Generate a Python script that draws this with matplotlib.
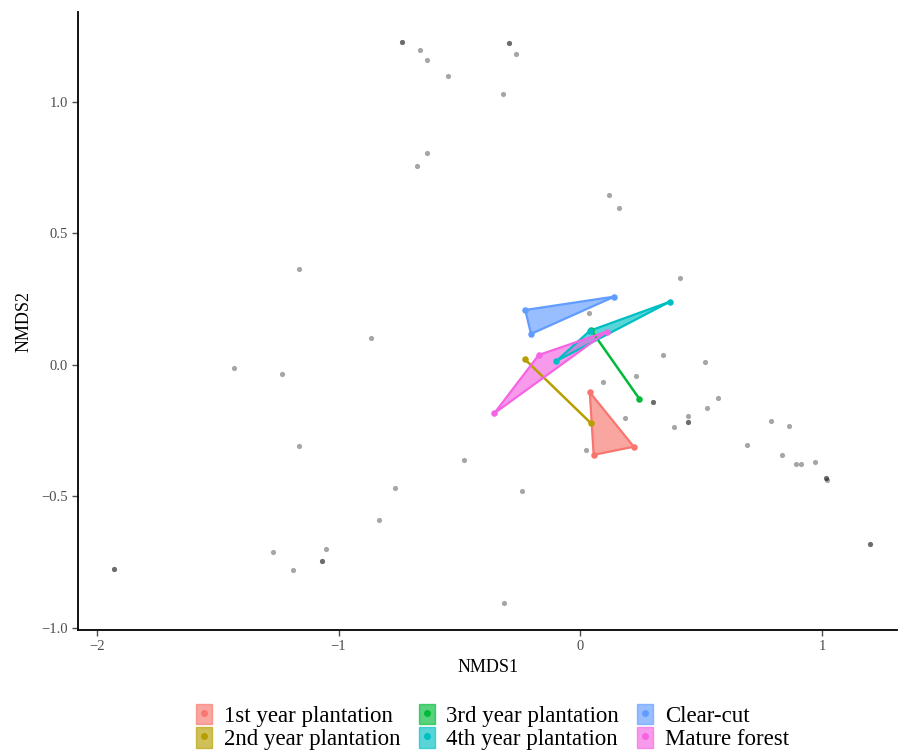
import matplotlib.pyplot as plt
from matplotlib.patches import Patch
from matplotlib.lines import Line2D
import numpy as np

plt.rcParams['font.family'] = ['Liberation Serif', 'DejaVu Serif']

# Site scores (grey background points)
site_x = [-0.736, -0.736, -0.662, -0.633, -0.546, -0.294, -0.294, -0.265, -0.319,
          -0.633, -0.674, 0.120, 0.161, -1.163, 0.414, -0.865, -1.432, -1.233,
          -1.163, -0.480, -0.765, -0.240, -0.832, -1.270, -1.187, -1.051, -1.067,
          -1.067, -1.928, -1.928, -0.314, 1.196, 1.196, 1.014, 1.014, 1.018,
          0.037, 0.343, 0.517, 0.095, 0.228, 0.302, 0.302, 0.186, 0.525, 0.571,
          0.447, 0.447, 0.447, 0.389, 0.025, 0.687, 0.790, 0.861, 0.832, 0.890,
          0.914, 0.972]
site_y = [1.228, 1.228, 1.198, 1.160, 1.099, 1.224, 1.224, 1.183, 1.030,
          0.806, 0.757, 0.646, 0.597, 0.365, 0.331, 0.103, -0.011, -0.034,
          -0.308, -0.361, -0.468, -0.479, -0.589, -0.711, -0.779, -0.700, -0.745,
          -0.745, -0.776, -0.776, -0.905, -0.681, -0.681, -0.430, -0.430, -0.438,
          0.198, 0.038, 0.011, -0.065, -0.042, -0.141, -0.141, -0.201, -0.164, -0.125,
          -0.194, -0.217, -0.217, -0.236, -0.323, -0.304, -0.213, -0.232, -0.342, -0.376,
          -0.376, -0.369]

# Group hull points
groups = ['1st year plantation', '2nd year plantation', '3rd year plantation',
          '4th year plantation', 'Clear-cut', 'Mature forest']
colors = ['#F8766D', '#B79F00', '#00BA38', '#00BFC4', '#619CFF', '#F564E3']
group_x = [[0.039, 0.221, 0.055],
           [-0.230, 0.044],
           [0.044, 0.244],
           [0.369, 0.039, -0.099],
           [-0.228, 0.141, -0.204],
           [-0.356, -0.172, 0.110]]
group_y = [[-0.104, -0.311, -0.342],
           [0.022, -0.222],
           [0.133, -0.129],
           [0.240, 0.130, 0.015],
           [0.209, 0.260, 0.118],
           [-0.184, 0.038, 0.127]]

fig = plt.figure(figsize=(8.99, 7.56), dpi=100)
ax = fig.add_axes([0.0868, 0.1667, 0.9112, 0.8173])

ax.scatter(site_x, site_y, s=14, color='black', alpha=0.35, linewidths=0, zorder=2)

for gx, gy, c in zip(group_x, group_y, colors):
    if len(gx) > 2:
        ax.fill(gx, gy, color=c, alpha=0.65, linewidth=0, zorder=3)
        ax.plot(gx + [gx[0]], gy + [gy[0]], color=c, lw=1.6, zorder=4)
    else:
        ax.plot(gx, gy, color=c, lw=1.8, zorder=4)
    ax.scatter(gx, gy, s=22, color=c, zorder=5, linewidths=0)

ax.set_xlim(-2.077, 1.31)
ax.set_ylim(-1.008, 1.342)
ax.set_xticks([-2, -1, 0, 1])
ax.set_yticks([-1.0, -0.5, 0.0, 0.5, 1.0])
ax.set_yticklabels(['\u22121.0', '\u22120.5', '0.0', '0.5', '1.0'])
ax.set_xticklabels(['\u22122', '\u22121', '0', '1'])
for s in ['top', 'right']:
    ax.spines[s].set_visible(False)
for s in ['left', 'bottom']:
    ax.spines[s].set_linewidth(1.3)
ax.tick_params(colors='#4d4d4d', labelsize=10.5, length=4, width=1)
ax.set_xlabel('NMDS1', fontsize=13, labelpad=4)
ax.set_ylabel('NMDS2', fontsize=13, labelpad=6)

handles = [(Patch(facecolor=c, alpha=0.65, edgecolor=c),
            Line2D([], [], marker='o', color=c, ls='', markersize=4))
           for c in colors]
fig.legend(handles, groups, loc='lower center', bbox_to_anchor=(0.548, -0.02),
           ncol=3, frameon=False, fontsize=16.5, handlelength=0.7, handleheight=1.0,
           handletextpad=0.5, columnspacing=0.8, labelspacing=0.02)

fig.savefig('out.png', dpi=100)
